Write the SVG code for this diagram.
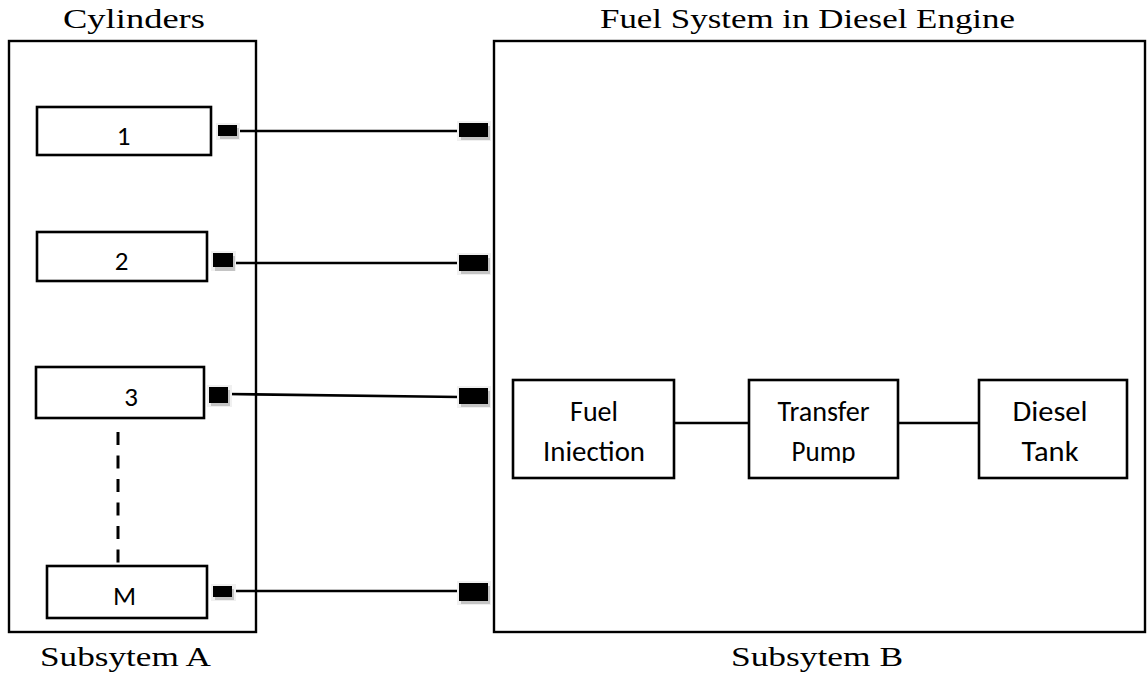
<svg xmlns="http://www.w3.org/2000/svg" width="1147" height="677" viewBox="0 0 1147 677">
<style>
  .box{fill:#fff;stroke:#000;stroke-width:2.6}
  .outer{fill:#fff;stroke:#000;stroke-width:2.4}
  .title{font-family:"Liberation Serif","Times New Roman",serif;font-size:28px;fill:#000}
  .lbl{font-family:"Carlito","Lato","Liberation Sans",sans-serif;font-size:28px;fill:#000;text-anchor:middle}
  .num{font-family:"Carlito","Lato","Liberation Sans",sans-serif;font-size:27px;fill:#000;text-anchor:middle}
  .wire{stroke:#000;stroke-width:2.6;fill:none}
  .dash{stroke:#000;stroke-width:3;stroke-dasharray:13 10.5;fill:none}
  .halo{fill:#f0f0f0}
  .shadow{fill:#c4c4c4}
  .port{fill:#000}
</style>
<defs>
  <clipPath id="clipRow2"><rect x="490" y="300" width="657" height="163"/></clipPath>
</defs>
<rect width="1147" height="677" fill="#fff"/>

<g id="subsystemA">
  <rect class="outer" x="9" y="41" width="247" height="591"/>
  <text class="title" x="63" y="28" textLength="142" lengthAdjust="spacingAndGlyphs">Cylinders</text>
  <text class="title" x="40" y="666" textLength="171" lengthAdjust="spacingAndGlyphs">Subsytem A</text>
</g>

<g id="subsystemB">
  <rect class="outer" x="494" y="41" width="651" height="591"/>
  <text class="title" x="600" y="28" textLength="415" lengthAdjust="spacingAndGlyphs">Fuel System in Diesel Engine</text>
  <text class="title" x="731" y="666" textLength="172" lengthAdjust="spacingAndGlyphs">Subsytem B</text>
</g>

<g id="cyl1">
  <rect class="box" x="37" y="107" width="174" height="48"/>
  <text class="num" x="123.5" y="145">1</text>
</g>
<g id="cyl2">
  <rect class="box" x="37" y="232" width="170" height="49"/>
  <text class="num" x="121.5" y="270">2</text>
</g>
<g id="cyl3">
  <rect class="box" x="36" y="367" width="168" height="51"/>
  <text class="num" x="131" y="406">3</text>
</g>
<g id="cylM">
  <rect class="box" x="47" y="566" width="160" height="52"/>
  <text class="num" x="124.5" y="605">M</text>
</g>

<g id="fuelInjection">
  <rect class="box" x="513" y="380" width="161" height="98"/>
  <text class="lbl" x="594" y="421" textLength="48" lengthAdjust="spacingAndGlyphs">Fuel</text>
  <text class="lbl" x="594" y="461" textLength="102" lengthAdjust="spacingAndGlyphs" clip-path="url(#clipRow2)">Iniection</text>
</g>
<g id="transferPump">
  <rect class="box" x="749" y="380" width="149" height="98"/>
  <text class="lbl" x="823.5" y="421" textLength="92" lengthAdjust="spacingAndGlyphs">Transfer</text>
  <text class="lbl" x="823.5" y="461" textLength="64" lengthAdjust="spacingAndGlyphs" clip-path="url(#clipRow2)">Pump</text>
</g>
<g id="dieselTank">
  <rect class="box" x="979" y="380" width="148" height="98"/>
  <text class="lbl" x="1050" y="421" textLength="75" lengthAdjust="spacingAndGlyphs">Diesel</text>
  <text class="lbl" x="1050" y="461" textLength="57" lengthAdjust="spacingAndGlyphs" clip-path="url(#clipRow2)">Tank</text>
</g>

<g id="connectors">
  <line class="dash" x1="118" y1="432" x2="118" y2="565"/>
  <line class="wire" x1="674" y1="423" x2="749" y2="423"/>
  <line class="wire" x1="898" y1="423" x2="979" y2="423"/>

  <line class="wire" x1="236" y1="131" x2="460" y2="131"/>
  <line class="wire" x1="232" y1="263" x2="460" y2="263"/>
  <line class="wire" x1="227" y1="394" x2="460" y2="397"/>
  <line class="wire" x1="231" y1="591" x2="460" y2="591"/>

  <g id="portsA">
    <rect class="halo" x="216" y="123" width="24" height="17"/>
    <rect class="shadow" x="220" y="128" width="19" height="11"/>
    <rect class="port" x="218" y="125" width="19" height="11"/>

    <rect class="halo" x="211" y="251" width="25" height="20"/>
    <rect class="shadow" x="215" y="256" width="20" height="15"/>
    <rect class="port" x="213" y="253" width="20" height="14"/>

    <rect class="halo" x="207" y="385" width="25" height="22"/>
    <rect class="shadow" x="211" y="390" width="19" height="16"/>
    <rect class="port" x="209" y="387" width="19" height="16"/>

    <rect class="halo" x="211" y="584" width="25" height="17"/>
    <rect class="shadow" x="215" y="589" width="19" height="11"/>
    <rect class="port" x="213" y="586" width="19" height="11"/>
  </g>
  <g id="portsB">
    <rect class="halo" x="457" y="121" width="34" height="20"/>
    <rect class="shadow" x="461" y="126" width="29" height="14"/>
    <rect class="port" x="459" y="123" width="29" height="14"/>

    <rect class="halo" x="457" y="253" width="34" height="22"/>
    <rect class="shadow" x="461" y="258" width="29" height="16"/>
    <rect class="port" x="459" y="255" width="29" height="16"/>

    <rect class="halo" x="457" y="386" width="34" height="22"/>
    <rect class="shadow" x="461" y="391" width="29" height="16"/>
    <rect class="port" x="459" y="388" width="29" height="16"/>

    <rect class="halo" x="457" y="581" width="34" height="24"/>
    <rect class="shadow" x="461" y="586" width="29" height="18"/>
    <rect class="port" x="459" y="583" width="29" height="18"/>
  </g>
</g>
</svg>
